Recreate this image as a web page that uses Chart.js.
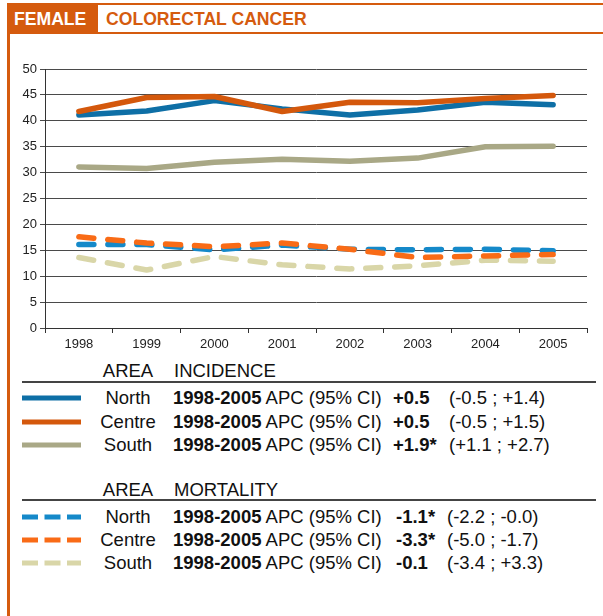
<!DOCTYPE html>
<html>
<head>
<meta charset="utf-8">
<script src="https://cdn.jsdelivr.net/npm/chart.js@4.4.1/dist/chart.umd.min.js"></script>
<style>
  html, body { margin: 0; padding: 0; background: #fff; }
  body { width: 603px; height: 616px; position: relative; overflow: hidden;
         font-family: "Liberation Sans", Arial, Helvetica, sans-serif; color: #111; }
  .abs { position: absolute; }
  .orange { background: #d55b0e; }
  .txt { position: absolute; white-space: nowrap; font-size: 18.5px; line-height: 22px; }
  .hdr { position: absolute; white-space: nowrap; font-size: 17.6px; font-weight: bold; line-height: 20px; }
  #chartBox { position: absolute; left: 0; top: 50px; width: 603px; height: 310px; }
</style>
</head>
<body>
<div class="abs orange" style="left:7px; top:3px; width:596px; height:2px;"></div>
<div class="abs orange" style="left:7px; top:3px; width:3px; height:613px;"></div>
<div class="abs orange" style="left:7px; top:32px; width:596px; height:2px;"></div>
<div class="abs orange" style="left:7px; top:3px; width:91px; height:30px;"></div>
<div class="hdr" style="left:14px; top:9px; color:#fff;">FEMALE</div>
<div class="hdr" style="left:106px; top:9px; color:#d55b0e;">COLORECTAL CANCER</div>

<div id="chartBox"><canvas id="crcChart"></canvas></div>
<div id="legend"></div>

<script>
// Years on the x axis
const years = ['1998', '1999', '2000', '2001', '2002', '2003', '2004', '2005'];

// Incidence rates (solid lines)
const incNorth = [41.1, 41.9, 43.9, 42.3, 41.1, 42.1, 43.6, 43.1];
const incCentre = [41.8, 44.5, 44.7, 41.8, 43.6, 43.5, 44.3, 44.9];
const incSouth = [31.1, 30.8, 32.0, 32.6, 32.2, 32.8, 35.0, 35.1];

// Mortality rates (dashed lines)
const morNorth = [16.1, 16.1, 15.1, 16.0, 15.2, 15.1, 15.2, 14.9];
const morCentre = [17.6, 16.4, 15.7, 16.4, 15.2, 13.6, 13.9, 14.2];
const morSouth = [13.6, 11.2, 13.8, 12.2, 11.4, 12.0, 13.1, 12.9];

// Y axis ticks
const yTicks = [0, 5, 10, 15, 20, 25, 30, 35, 40, 45, 50];

// Legend table
const areas = ['North', 'Centre', 'South'];
const incApc = ['+0.5', '+0.5', '+1.9*'];
const incCi = ['(-0.5 ; +1.4)', '(-0.5 ; +1.5)', '(+1.1 ; +2.7)'];
const morApc = ['-1.1*', '-3.3*', '-0.1'];
const morCi = ['(-2.2 ; -0.0)', '(-5.0 ; -1.7)', '(-3.4 ; +3.3)'];

const incColors = ['#0e6fa6', '#d4580c', '#a9a886'];
const morColors = ['#1589c9', '#f96b16', '#d9d6a8'];

document.addEventListener('DOMContentLoaded', () => {
    buildLegend();
    initializeChart();
});

function initializeChart() {
    const ctx = document.getElementById('crcChart').getContext('2d');

    const solid = (label, data, color, order) => ({
        label: label, data: data, borderColor: color, backgroundColor: color,
        borderWidth: 5.5, pointRadius: 0, tension: 0, fill: false,
        borderCapStyle: 'round', borderJoinStyle: 'round', order: order
    });
    const dashed = (label, data, color, order) => ({
        label: label, data: data, borderColor: color, backgroundColor: color,
        borderWidth: 5.5, pointRadius: 0, tension: 0, fill: false,
        borderDash: [15, 14], borderCapStyle: 'round', borderJoinStyle: 'round', order: order
    });

    new Chart(ctx, {
        type: 'line',
        data: {
            labels: years,
            datasets: [
                solid('Incidence North', incNorth, incColors[0], 5),
                solid('Incidence Centre', incCentre, incColors[1], 4),
                solid('Incidence South', incSouth, incColors[2], 3),
                dashed('Mortality North', morNorth, morColors[0], 8),
                dashed('Mortality Centre', morCentre, morColors[1], 7),
                dashed('Mortality South', morSouth, morColors[2], 9)
            ]
        },
        options: {
            responsive: true,
            maintainAspectRatio: false,
            animation: false,
            layout: { padding: { top: 19, right: 16, left: 0, bottom: 0 } },
            scales: {
                x: {
                    offset: true,
                    grid: { display: true, offset: true, drawOnChartArea: false, tickLength: 5, color: '#333' },
                    border: { color: '#333', width: 1 },
                    ticks: { color: '#222', font: { size: 13, family: '"Liberation Sans", Arial' }, padding: 4, maxRotation: 0 },
                    afterFit: (scale) => { scale.height = 32; }
                },
                y: {
                    min: 0,
                    max: 50,
                    afterBuildTicks: (scale) => { scale.ticks = yTicks.map(v => ({ value: v })); },
                    grid: { color: '#4a4a4a', tickLength: 5 },
                    border: { color: '#333', width: 1 },
                    ticks: { color: '#222', font: { size: 13, family: '"Liberation Sans", Arial' }, padding: 3 },
                    afterFit: (scale) => { scale.width = 45; }
                }
            },
            plugins: {
                legend: { display: false },
                tooltip: { enabled: false }
            }
        }
    });
}

// Legend table below the chart, built from the arrays above
function buildLegend() {
    const box = document.getElementById('legend');
    const add = (html) => box.insertAdjacentHTML('beforeend', html);

    const section = (title, headY, ruleY, rowYs, colors, dashedLine, apc, ci, apcX, ciX) => {
        add(`<div class="txt" style="left:78px; width:100px; text-align:center; top:${headY - 11}px;">AREA</div>`);
        add(`<div class="txt" style="left:174px; top:${headY - 11}px;">${title}</div>`);
        add(`<div class="abs" style="left:22px; width:574px; top:${ruleY}px; height:1.5px; background:#444;"></div>`);
        rowYs.forEach((y, i) => {
            const dash = dashedLine ? 'stroke-dasharray="16 6.5"' : '';
            add(`<svg class="abs" style="left:22px; top:${y - 4}px;" width="60" height="8">
                   <line x1="0" y1="4" x2="59" y2="4" stroke="${colors[i]}" stroke-width="5" ${dash}/></svg>`);
            add(`<div class="txt" style="left:78px; width:100px; text-align:center; top:${y - 11}px;">${areas[i]}</div>`);
            add(`<div class="txt" style="left:173px; top:${y - 11}px;"><b>1998-2005</b> APC (95% CI)</div>`);
            add(`<div class="txt" style="left:${apcX}px; top:${y - 11}px; font-weight:bold;">${apc[i]}</div>`);
            add(`<div class="txt" style="left:${ciX}px; top:${y - 11}px;">${ci[i]}</div>`);
        });
    };

    section('INCIDENCE', 371, 381, [398, 422, 445], incColors, false, incApc, incCi, 393, 449);
    section('MORTALITY', 490, 499, [517, 540, 563], morColors, true, morApc, morCi, 396, 447);
}
</script>
</body>
</html>
